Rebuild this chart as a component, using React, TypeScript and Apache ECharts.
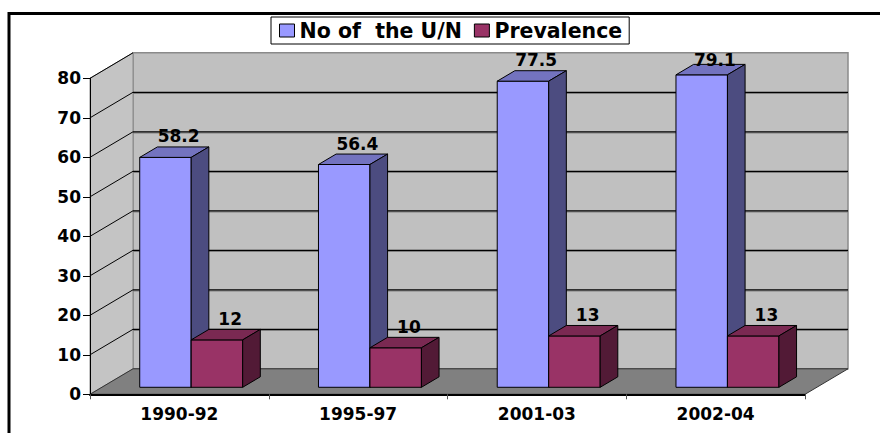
import React, { useEffect, useRef } from "react";
import * as echarts from "echarts";

const categories = ["1990-92", "1995-97", "2001-03", "2002-04"];
const unValues = [58.2, 56.4, 77.5, 79.1];
const prevalenceValues = [12, 10, 13, 13];
const seriesNames = ["No of  the U/N", "Prevalence"];
const yTicks = [0, 10, 20, 30, 40, 50, 60, 70, 80];

const FONT = "'DejaVu Sans', Verdana, sans-serif";
const DX = 43;
const DY = -25.5;
const BAR_FRONT = 0.275;
const BAR_DEPTH = 0.41;
const GROUP = 0.576;

const faces = [
  { front: "#9999FF", top: "#7373BF", side: "#4C4C80" },
  { front: "#993366", top: "#7A2952", side: "#521A36" },
];

function makeBarRender(seriesIdx: number) {
  return (params: any, api: any) => {
    const cat = api.value(0);
    const val = api.value(1);
    const cs = params.coordSys;
    const band = api.size([1, 0])[0];
    const base = api.coord([cat, 0]);
    const top = api.coord([cat, val]);
    const barW = (band * GROUP) / 2;
    const fx = base[0] - (band * GROUP) / 2 + seriesIdx * barW + BAR_FRONT * DX;
    const fyB = base[1] + BAR_FRONT * DY;
    const fyT = top[1] + BAR_FRONT * DY;
    const bx = BAR_DEPTH * DX;
    const by = BAR_DEPTH * DY;
    const c = faces[seriesIdx];
    const labelX = fx + barW / 2 + 0.75 * bx;
    const labelY = Math.max(fyT + by - 10.5, cs.y - 18);
    return {
      type: "group",
      children: [
        {
          type: "rect",
          shape: { x: fx, y: fyT, width: barW, height: fyB - fyT },
          style: { fill: c.front, stroke: "#000", lineWidth: 1 },
        },
        {
          type: "polygon",
          shape: {
            points: [
              [fx, fyT],
              [fx + barW, fyT],
              [fx + barW + bx, fyT + by],
              [fx + bx, fyT + by],
            ],
          },
          style: { fill: c.top, stroke: "#000", lineWidth: 1 },
        },
        {
          type: "polygon",
          shape: {
            points: [
              [fx + barW, fyT],
              [fx + barW + bx, fyT + by],
              [fx + barW + bx, fyB + by],
              [fx + barW, fyB],
            ],
          },
          style: { fill: c.side, stroke: "#000", lineWidth: 1 },
        },
        {
          type: "text",
          x: labelX,
          y: labelY,
          style: {
            text: String(val),
            fill: "#000",
            fontFamily: FONT,
            fontWeight: "bold",
            fontSize: 17,
            align: "center",
            verticalAlign: "middle",
          },
        },
      ],
    };
  };
}

const wallsRender = (params: any, api: any) => {
  const cs = params.coordSys;
  const x0 = cs.x;
  const x1 = cs.x + cs.width;
  const y0 = cs.y;
  const y1 = cs.y + cs.height;
  const maxV = yTicks[yTicks.length - 1];
  const children: any[] = [];
  children.push({
    type: "polygon",
    shape: {
      points: [
        [x0 + DX, y0 + DY],
        [x1 + DX, y0 + DY],
        [x1 + DX, y1 + DY],
        [x0 + DX, y1 + DY],
      ],
    },
    style: { fill: "#C0C0C0", stroke: "#8a8a8a", lineWidth: 1.5 },
  });
  children.push({
    type: "polygon",
    shape: {
      points: [
        [x0, y0],
        [x0 + DX, y0 + DY],
        [x0 + DX, y1 + DY],
        [x0, y1],
      ],
    },
    style: { fill: "#C4C4C4", stroke: "#8a8a8a", lineWidth: 1 },
  });
  children.push({
    type: "polygon",
    shape: {
      points: [
        [x0, y1],
        [x1, y1],
        [x1 + DX, y1 + DY],
        [x0 + DX, y1 + DY],
      ],
    },
    style: { fill: "#808080", stroke: "#333", lineWidth: 1 },
  });
  yTicks.forEach((v) => {
    if (v === 0) return;
    const y = api.coord([0, v])[1];
    if (v < maxV) {
      children.push({
        type: "line",
        shape: { x1: x0 + DX, y1: y + DY + 1.2, x2: x1 + DX, y2: y + DY + 1.2 },
        style: { stroke: "#808080", lineWidth: 1 },
      });
      children.push({
        type: "line",
        shape: { x1: x0 + DX, y1: y + DY, x2: x1 + DX, y2: y + DY },
        style: { stroke: "#000", lineWidth: 1.2 },
      });
    }
    children.push({
      type: "line",
      shape: { x1: x0, y1: y, x2: x0 + DX, y2: y + DY },
      style: { stroke: "#000", lineWidth: 1 },
    });
  });
  return { type: "group", children };
};

export default function App() {
  const ref = useRef<HTMLDivElement>(null);
  useEffect(() => {
    if (!ref.current) return;
    const chart = echarts.init(ref.current, null, { renderer: "svg" });
    const labelStyle = {
      fontFamily: FONT,
      fontWeight: "bold" as const,
      fontSize: 17,
      color: "#000",
    };
    chart.setOption({
      animation: false,
      backgroundColor: "#fff",
      grid: {
        left: 90,
        right: 75,
        top: 78.3,
        bottom: 38.7,
        containLabel: false,
        outerBoundsMode: "none",
      },
      legend: {
        data: seriesNames,
        left: 271,
        top: 17,
        itemWidth: 15,
        itemHeight: 13,
        itemGap: 12,
        icon: "rect",
        borderColor: "#000",
        borderWidth: 1,
        padding: [3, 7, 3, 8],
        backgroundColor: "#fff",
        itemStyle: { borderColor: "#000", borderWidth: 1 },
        textStyle: { ...labelStyle, fontSize: 20.5 },
      },
      xAxis: {
        type: "category",
        data: categories,
        z: 3,
        axisLine: { lineStyle: { color: "#000", width: 2 } },
        axisTick: { show: true, length: 5, lineStyle: { color: "#555" } },
        axisLabel: { ...labelStyle, margin: 11, interval: 0 },
        splitLine: { show: false },
      },
      yAxis: {
        type: "value",
        min: 0,
        max: 80,
        interval: 10,
        z: 3,
        axisLine: { show: true, lineStyle: { color: "#000", width: 1 } },
        axisTick: { show: true, length: 7, lineStyle: { color: "#000" } },
        axisLabel: { ...labelStyle, margin: 9 },
        splitLine: { show: false },
      },
      graphic: [
        {
          type: "rect",
          shape: { x: 9, y: 13.5, width: 1000, height: 1000 },
          style: { fill: "none", stroke: "#000", lineWidth: 3 },
          z: 100,
        },
      ],
      series: [
        {
          type: "custom",
          name: "walls",
          z: 1,
          silent: true,
          clip: false,
          encode: { x: 0, y: 1 },
          data: [[0, 0]],
          renderItem: wallsRender,
        },
        {
          type: "custom",
          name: seriesNames[0],
          z: 2,
          clip: false,
          itemStyle: { color: faces[0].front, borderColor: "#000", borderWidth: 1 },
          encode: { x: 0, y: 1 },
          data: categories.map((_, i) => [i, unValues[i]]),
          renderItem: makeBarRender(0),
        },
        {
          type: "custom",
          name: seriesNames[1],
          z: 2,
          clip: false,
          itemStyle: { color: faces[1].front, borderColor: "#000", borderWidth: 1 },
          encode: { x: 0, y: 1 },
          data: categories.map((_, i) => [i, prevalenceValues[i]]),
          renderItem: makeBarRender(1),
        },
      ],
    });
    return () => chart.dispose();
  }, []);
  return (
    <div
      ref={ref}
      style={{ position: "fixed", left: 0, top: 0, width: 880, height: 433 }}
    />
  );
}
